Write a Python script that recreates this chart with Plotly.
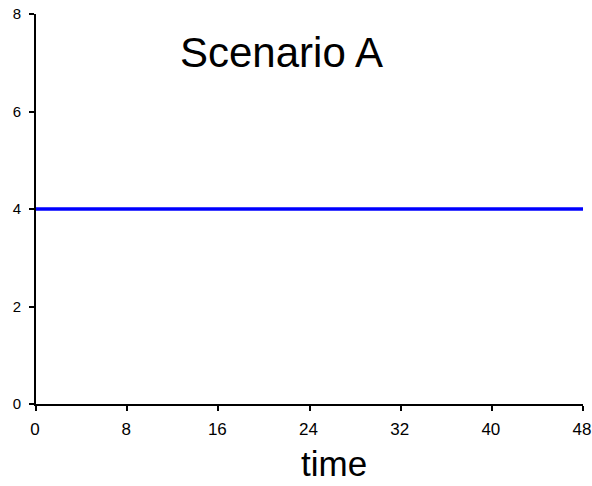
import plotly.graph_objects as go

time_h = [0, 8, 16, 24, 32, 40, 48]
value = [4, 4, 4, 4, 4, 4, 4]
x_ticks = [0, 8, 16, 24, 32, 40, 48]
y_ticks = [0, 2, 4, 6, 8]

FONT = "Liberation Sans, Arial, sans-serif"

fig = go.Figure()
fig.add_trace(go.Scatter(x=time_h, y=value, mode="lines",
                         line=dict(color="#0000FF", width=3.5),
                         showlegend=False, hoverinfo="skip", cliponaxis=False))

fig.update_layout(
    width=592, height=486,
    margin=dict(l=36, r=9, t=14, b=82, autoexpand=False),
    paper_bgcolor="white", plot_bgcolor="white",
    font=dict(family=FONT, color="black", size=14),
    xaxis=dict(range=[0, 48], tickvals=x_ticks, ticktext=[str(v) for v in x_ticks],
               showgrid=False, zeroline=False, showline=True, linecolor="black",
               linewidth=2, ticks="outside", ticklen=5, tickwidth=2, tickcolor="black",
               tickfont=dict(size=17), automargin=False, ticklabelstandoff=4,
               ticklabelshift=-1),
    yaxis=dict(range=[0, 8], tickvals=y_ticks, ticktext=[str(v) for v in y_ticks],
               showgrid=False, zeroline=False, showline=True, linecolor="black",
               linewidth=2, ticks="outside", ticklen=5, tickwidth=2, tickcolor="black",
               tickfont=dict(size=15), automargin=False, ticklabelstandoff=5),
    annotations=[
        dict(text="Scenario A", x=21.5, y=7.22, xref="x", yref="y",
             showarrow=False, xanchor="center", yanchor="middle",
             font=dict(size=42, family=FONT, color="black")),
        dict(text="time", x=0.544, y=-(463.5 - 404) / 390, xref="paper", yref="paper",
             showarrow=False, xanchor="center", yanchor="middle",
             font=dict(size=35, family=FONT, color="black")),
    ],
)

fig.write_html("out.html", config={"displayModeBar": False},
               post_script="document.body.style.margin='0px';")
